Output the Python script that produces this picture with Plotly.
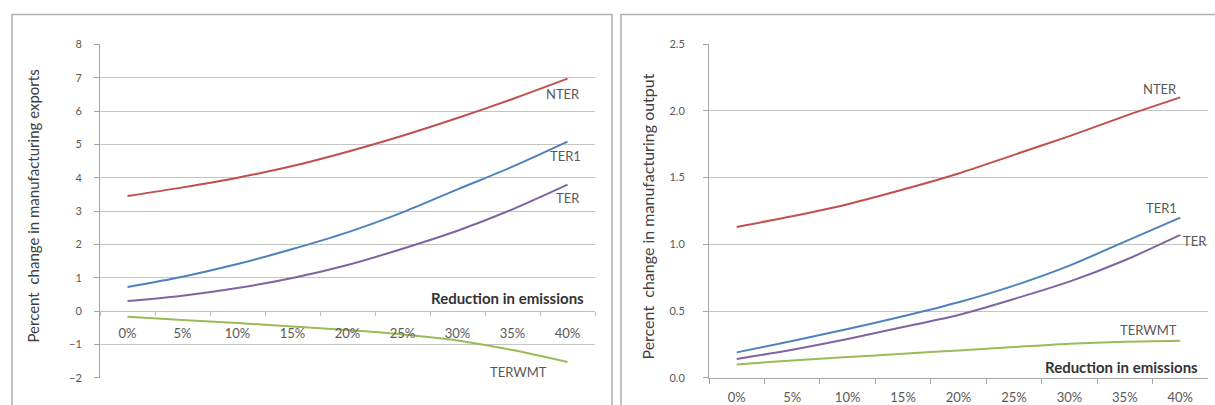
import plotly.graph_objects as go

categories = ["0%", "5%", "10%", "15%", "20%", "25%", "30%", "35%", "40%"]

# Left chart: percent change in manufacturing exports
exp_nter = [3.45, 3.71, 4.00, 4.35, 4.78, 5.26, 5.79, 6.36, 6.97]
exp_ter1 = [0.72, 1.03, 1.41, 1.86, 2.36, 2.96, 3.65, 4.33, 5.08]
exp_ter = [0.30, 0.46, 0.69, 0.99, 1.38, 1.87, 2.41, 3.05, 3.79]
exp_terwmt = [-0.17, -0.27, -0.36, -0.46, -0.57, -0.70, -0.88, -1.17, -1.53]

# Right chart: percent change in manufacturing output
out_nter = [1.13, 1.21, 1.30, 1.41, 1.53, 1.67, 1.81, 1.96, 2.10]
out_ter1 = [0.19, 0.275, 0.365, 0.46, 0.565, 0.69, 0.84, 1.02, 1.20]
out_ter = [0.14, 0.21, 0.29, 0.38, 0.47, 0.59, 0.72, 0.88, 1.07]
out_terwmt = [0.10, 0.13, 0.155, 0.18, 0.205, 0.23, 0.255, 0.27, 0.277]

series_names = ["NTER", "TER1", "TER", "TERWMT"]
colors = ["#C0504D", "#4F81BD", "#8064A2", "#9BBB59"]

W, H = 1215, 405
FONT = "Lato"
TICK_COLOR = "#595959"
GRID = "#C4C4C4"


def py(o):
    """paper y for a target pixel row (from top), compensating the capture's vertical scale"""
    return (H - (o - 5.5) / 0.97) / H


fig = go.Figure()

left_series = [exp_nter, exp_ter1, exp_ter, exp_terwmt]
right_series = [out_nter, out_ter1, out_ter, out_terwmt]

for name, vals, c in zip(series_names, left_series, colors):
    fig.add_trace(go.Scatter(x=categories, y=vals, mode="lines", name=name,
                             line=dict(color=c, width=2, shape="spline", smoothing=0.8),
                             xaxis="x", yaxis="y", showlegend=False))
for name, vals, c in zip(series_names, right_series, colors):
    fig.add_trace(go.Scatter(x=categories, y=vals, mode="lines", name=name,
                             line=dict(color=c, width=2, shape="spline", smoothing=0.8),
                             xaxis="x2", yaxis="y2", showlegend=False))

ydom = [py(378), py(43)]
y_min, y_max = -2, 8
zero_pos = ydom[0] + (ydom[1] - ydom[0]) * (0 - y_min) / (y_max - y_min)

ytickfont = dict(family=FONT, size=11, color=TICK_COLOR)
xtickfont = dict(family=FONT, size=13, color=TICK_COLOR)

fig.update_layout(
    width=W, height=H, autosize=False,
    margin=dict(l=0, r=0, t=0, b=0, pad=0),
    paper_bgcolor="white", plot_bgcolor="white",
    xaxis=dict(type="category", categoryorder="array", categoryarray=categories,
               range=[-0.5, 8.5], domain=[100 / W, 595 / W],
               anchor="free", position=zero_pos,
               showline=True, linecolor="#BFBFBF", linewidth=1,
               ticks="outside", tickson="boundaries", ticklen=4, tickcolor="#BFBFBF",
               showgrid=False, tickfont=xtickfont, ticklabelstandoff=10),
    yaxis=dict(range=[y_min, y_max], dtick=1, domain=ydom, anchor="x",
               showline=True, linecolor="#A6A6A6", linewidth=1,
               ticks="outside", ticklen=5, tickcolor="#A6A6A6",
               showgrid=True, gridcolor=GRID, gridwidth=1, zeroline=False,
               tickfont=ytickfont, ticklabelstandoff=10),
    xaxis2=dict(type="category", categoryorder="array", categoryarray=categories,
                range=[-0.5, 8.5], domain=[709 / W, 1208 / W], anchor="y2",
                showline=True, linecolor="#A6A6A6", linewidth=1,
                ticks="outside", tickson="boundaries", ticklen=5, tickcolor="#A6A6A6",
                showgrid=False, tickfont=xtickfont, ticklabelstandoff=8),
    yaxis2=dict(range=[0, 2.5], dtick=0.5, tickformat=".1f", domain=[py(378), py(42.7)],
                anchor="x2", showline=True, linecolor="#A6A6A6", linewidth=1,
                ticks="outside", ticklen=5, tickcolor="#A6A6A6",
                showgrid=True, gridcolor=GRID, gridwidth=1, zeroline=False,
                tickfont=ytickfont, ticklabelstandoff=16),
)

# chart-area borders
fig.add_shape(type="rect", xref="paper", yref="paper",
              x0=12 / W, x1=612 / W, y0=-0.05, y1=py(13),
              line=dict(color="#B0B0B0", width=1.5), fillcolor="rgba(0,0,0,0)", layer="below")
fig.add_shape(type="rect", xref="paper", yref="paper",
              x0=621 / W, x1=1.05, y0=-0.05, y1=py(13),
              line=dict(color="#B0B0B0", width=1.5), fillcolor="rgba(0,0,0,0)", layer="below")

# axis titles
fig.add_annotation(text="Percent  change in manufacturing exports", xref="paper", yref="paper",
                   x=33 / W, y=py(206), xanchor="center", yanchor="middle",
                   textangle=-90, showarrow=False,
                   font=dict(family=FONT, size=15, color="#404040"))
fig.add_annotation(text="Percent  change in manufacturing output", xref="paper", yref="paper",
                   x=648 / W, y=py(216), xanchor="center", yanchor="middle",
                   textangle=-90, showarrow=False,
                   font=dict(family=FONT, size=16, color="#404040"))

bold_font = dict(family=FONT, size=15, color="#333333")
fig.add_annotation(text="<b>Reduction in emissions</b>", xref="paper", yref="paper",
                   x=507 / W, y=py(298), xanchor="center", yanchor="middle",
                   showarrow=False, font=bold_font)
fig.add_annotation(text="<b>Reduction in emissions</b>", xref="paper", yref="paper",
                   x=1121 / W, y=py(367), xanchor="center", yanchor="middle",
                   showarrow=False, font=bold_font)

# series labels near line ends
label_font = dict(family=FONT, size=13, color=TICK_COLOR)
left_offsets = [(-5, -15), (-2, -14), (0, -13), (-49, -10)]
right_offsets = [(-20, 8), (-19, 10), (15, -6), (-32, 11)]
for name, vals, (dx, dy) in zip(series_names, left_series, left_offsets):
    fig.add_annotation(text=name, xref="x", yref="y", x=categories[-1], y=vals[-1],
                       xshift=dx, yshift=dy, showarrow=False, font=label_font,
                       xanchor="center", yanchor="middle")
for name, vals, (dx, dy) in zip(series_names, right_series, right_offsets):
    fig.add_annotation(text=name, xref="x2", yref="y2", x=categories[-1], y=vals[-1],
                       xshift=dx, yshift=dy, showarrow=False, font=label_font,
                       xanchor="center", yanchor="middle")

reset_js = (
    "var h=document.documentElement,b=document.body;"
    "[h,b].forEach(function(e){e.style.margin='0';e.style.padding='0';"
    "e.style.overflow='hidden';e.style.height='405px';});"
)
fig.write_html("out.html", config={"displayModeBar": False}, post_script=reset_js)
